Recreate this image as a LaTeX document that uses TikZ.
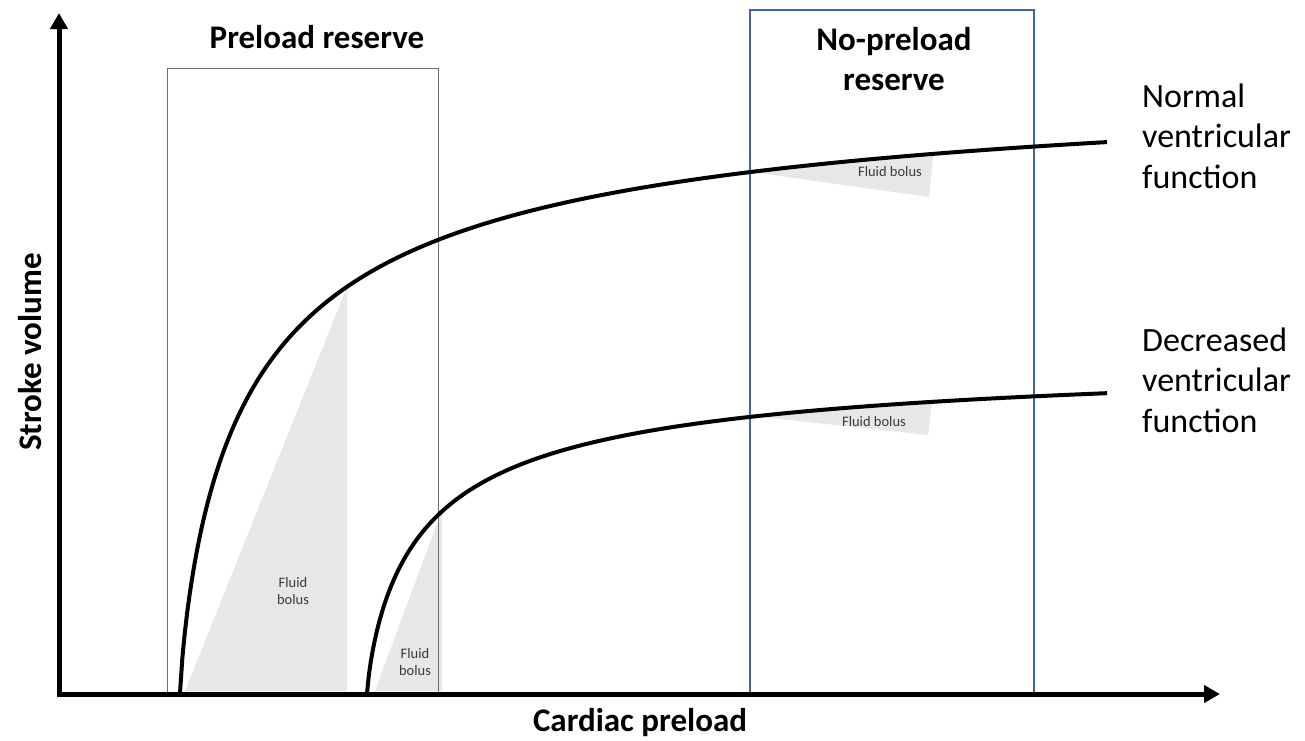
\documentclass[tikz,border=0pt]{standalone}
\usepackage{fontspec}
\setmainfont{Carlito}
\usetikzlibrary{arrows.meta}
\definecolor{bolusgray}{HTML}{E7E7E7}
\definecolor{boxblue}{HTML}{3F63AE}
\definecolor{boxgray}{HTML}{6E6E6E}
\definecolor{labelgray}{HTML}{3A3A3A}
\tikzset{
  axisline/.style={line width=5pt,-{Triangle[length=16pt,width=17pt]}},
  curveline/.style={line width=4pt},
  bolus/.style={fill=bolusgray,draw=none},
  bigtitle/.style={font=\fontsize{33}{40}\selectfont\bfseries,inner sep=0pt,align=center},
  sidelabel/.style={font=\fontsize{34}{40.5}\selectfont,inner sep=0pt,align=left,anchor=base west},
  boluslabel/.style={font=\fontsize{14.5}{17.5}\selectfont,text=labelgray,inner sep=0pt,align=center}
}
\begin{document}
\begin{tikzpicture}[x=1pt,y=-1pt]
\useasboundingbox (0,0) rectangle (1305,740);
% fluid bolus triangles
\fill[bolus] (185,691) -- (347,287) -- (347,691) -- cycle;
\fill[bolus] (375,691) -- (442,510) -- (442,691) -- cycle;
\fill[bolus] (752,172) -- (933,156) -- (929,197) -- cycle;
\fill[bolus] (752,416) -- (932,403) -- (928,435) -- cycle;
% boxes
\node[draw=boxgray,line width=1.3pt,minimum width=271pt,minimum height=626pt,inner sep=0pt,anchor=north west] (pre) at (167,68) {};
\node[draw=boxblue,line width=1.6pt,minimum width=284pt,minimum height=685pt,inner sep=0pt,anchor=north west] (nopre) at (749,9) {};
% curves
\draw[curveline] plot[domain=180.05:1107,samples=400] (\x,{694-627.8/(1+32.5/((\x-180)^0.8))});
\draw[curveline] plot[domain=367.05:1107,samples=400] (\x,{694-343.2/(1+27.8/((\x-367)^0.8))});
% axes
\coordinate (ybase) at (59,696.5);
\coordinate (xbase) at (56.5,694);
\coordinate (ytip) at (59,13);
\coordinate (xtip) at (1220,694);
\draw[axisline] (ybase) -- (ytip);
\draw[axisline] (xbase) -- (xtip);
% labels
\node[bigtitle] (ylab) at (30,352) {\rotatebox{90}{Stroke volume}};
\node[bigtitle,anchor=base] (xlab) at (640,731) {Cardiac preload};
\node[bigtitle,anchor=base] (prelab) at (317,48) {Preload reserve};
\node[bigtitle,anchor=base] (noprelab) at (894,90) {No-preload\\reserve};
\node[sidelabel] (normlab) at (1142,188) {Normal\\ventricular\\function};
\node[sidelabel] (declab) at (1142,432) {Decreased\\ventricular\\function};
\node[boluslabel] (b1) at (293,591) {Fluid\\bolus};
\node[boluslabel] (b2) at (415,662) {Fluid\\bolus};
\node[boluslabel] (b3) at (890,172) {Fluid bolus};
\node[boluslabel] (b4) at (874,422) {Fluid bolus};
\end{tikzpicture}
\end{document}
